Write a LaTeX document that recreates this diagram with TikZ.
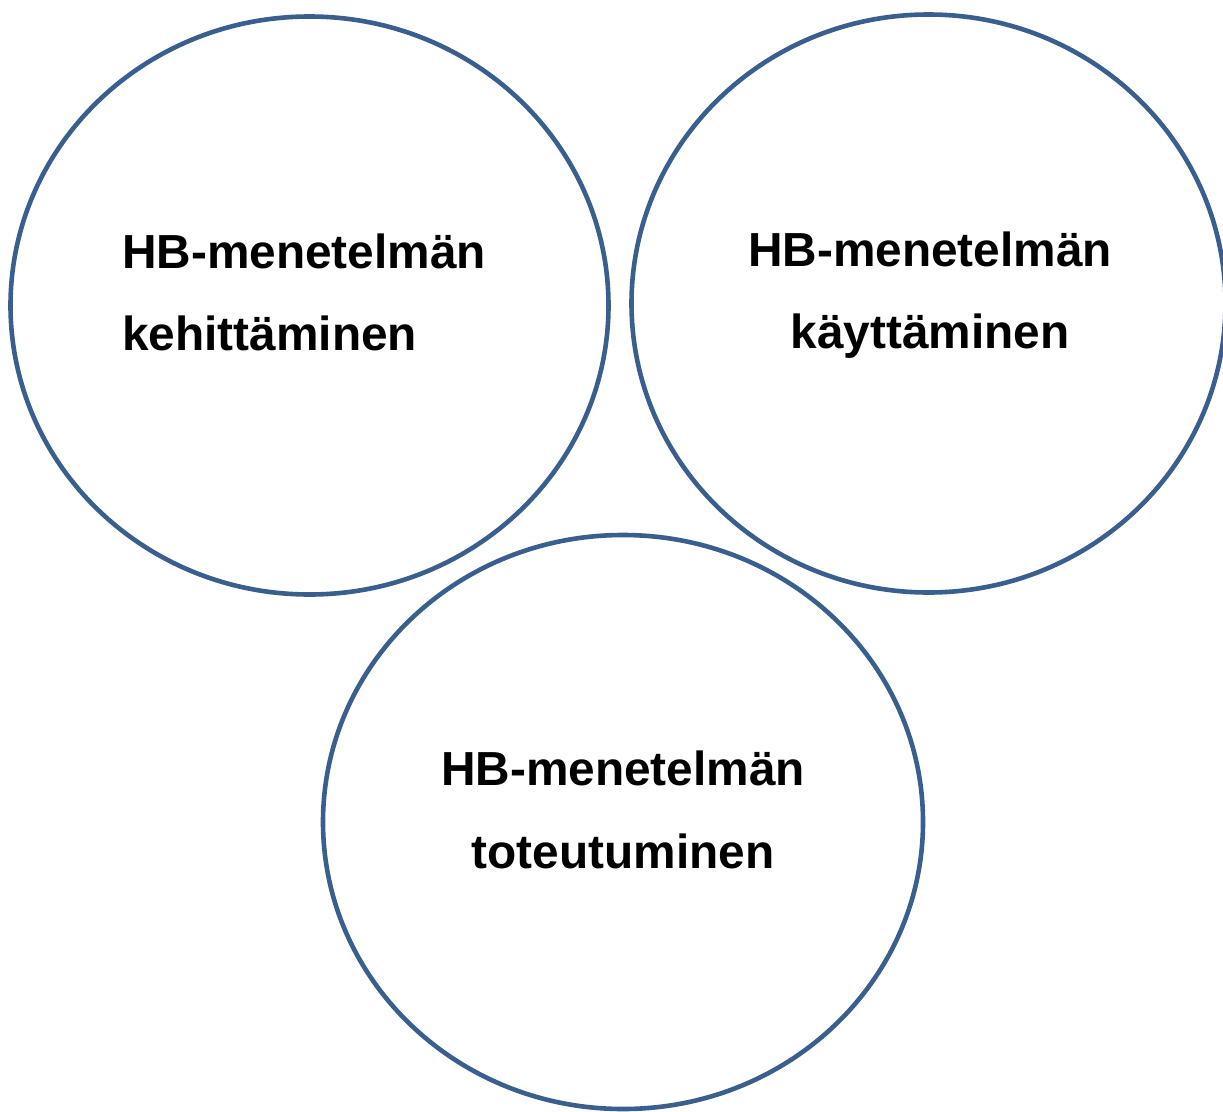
\documentclass[tikz,border=0pt]{standalone}
\usepackage{fontspec}
\setmainfont{Liberation Sans}
\definecolor{ringblue}{HTML}{3A5F8F}
\begin{document}
\begin{tikzpicture}[x=1pt,y=-1pt,
  ring/.style={draw=ringblue,line width=4.6pt},
  lbl/.style={font=\fontsize{47.8}{57}\selectfont\bfseries,inner sep=0pt,anchor=base}]
\useasboundingbox (0,0) rectangle (1223,1111);
\draw[ring] (309.5,305.5) ellipse [x radius=299, y radius=289];
\draw[ring] (928.5,303.5) ellipse [x radius=297, y radius=289];
\draw[ring] (623,822) ellipse [x radius=300, y radius=287];
\node[lbl,anchor=base west] (a1) at (122,268) {HB-menetelmän};
\node[lbl,anchor=base west] (a2) at (122,350) {kehittäminen};
\node[lbl] (b1) at (930,266) {HB-menetelmän};
\node[lbl] (b2) at (930,348) {käyttäminen};
\node[lbl] (c1) at (623,785) {HB-menetelmän};
\node[lbl] (c2) at (623,868) {toteutuminen};
\end{tikzpicture}
\end{document}
